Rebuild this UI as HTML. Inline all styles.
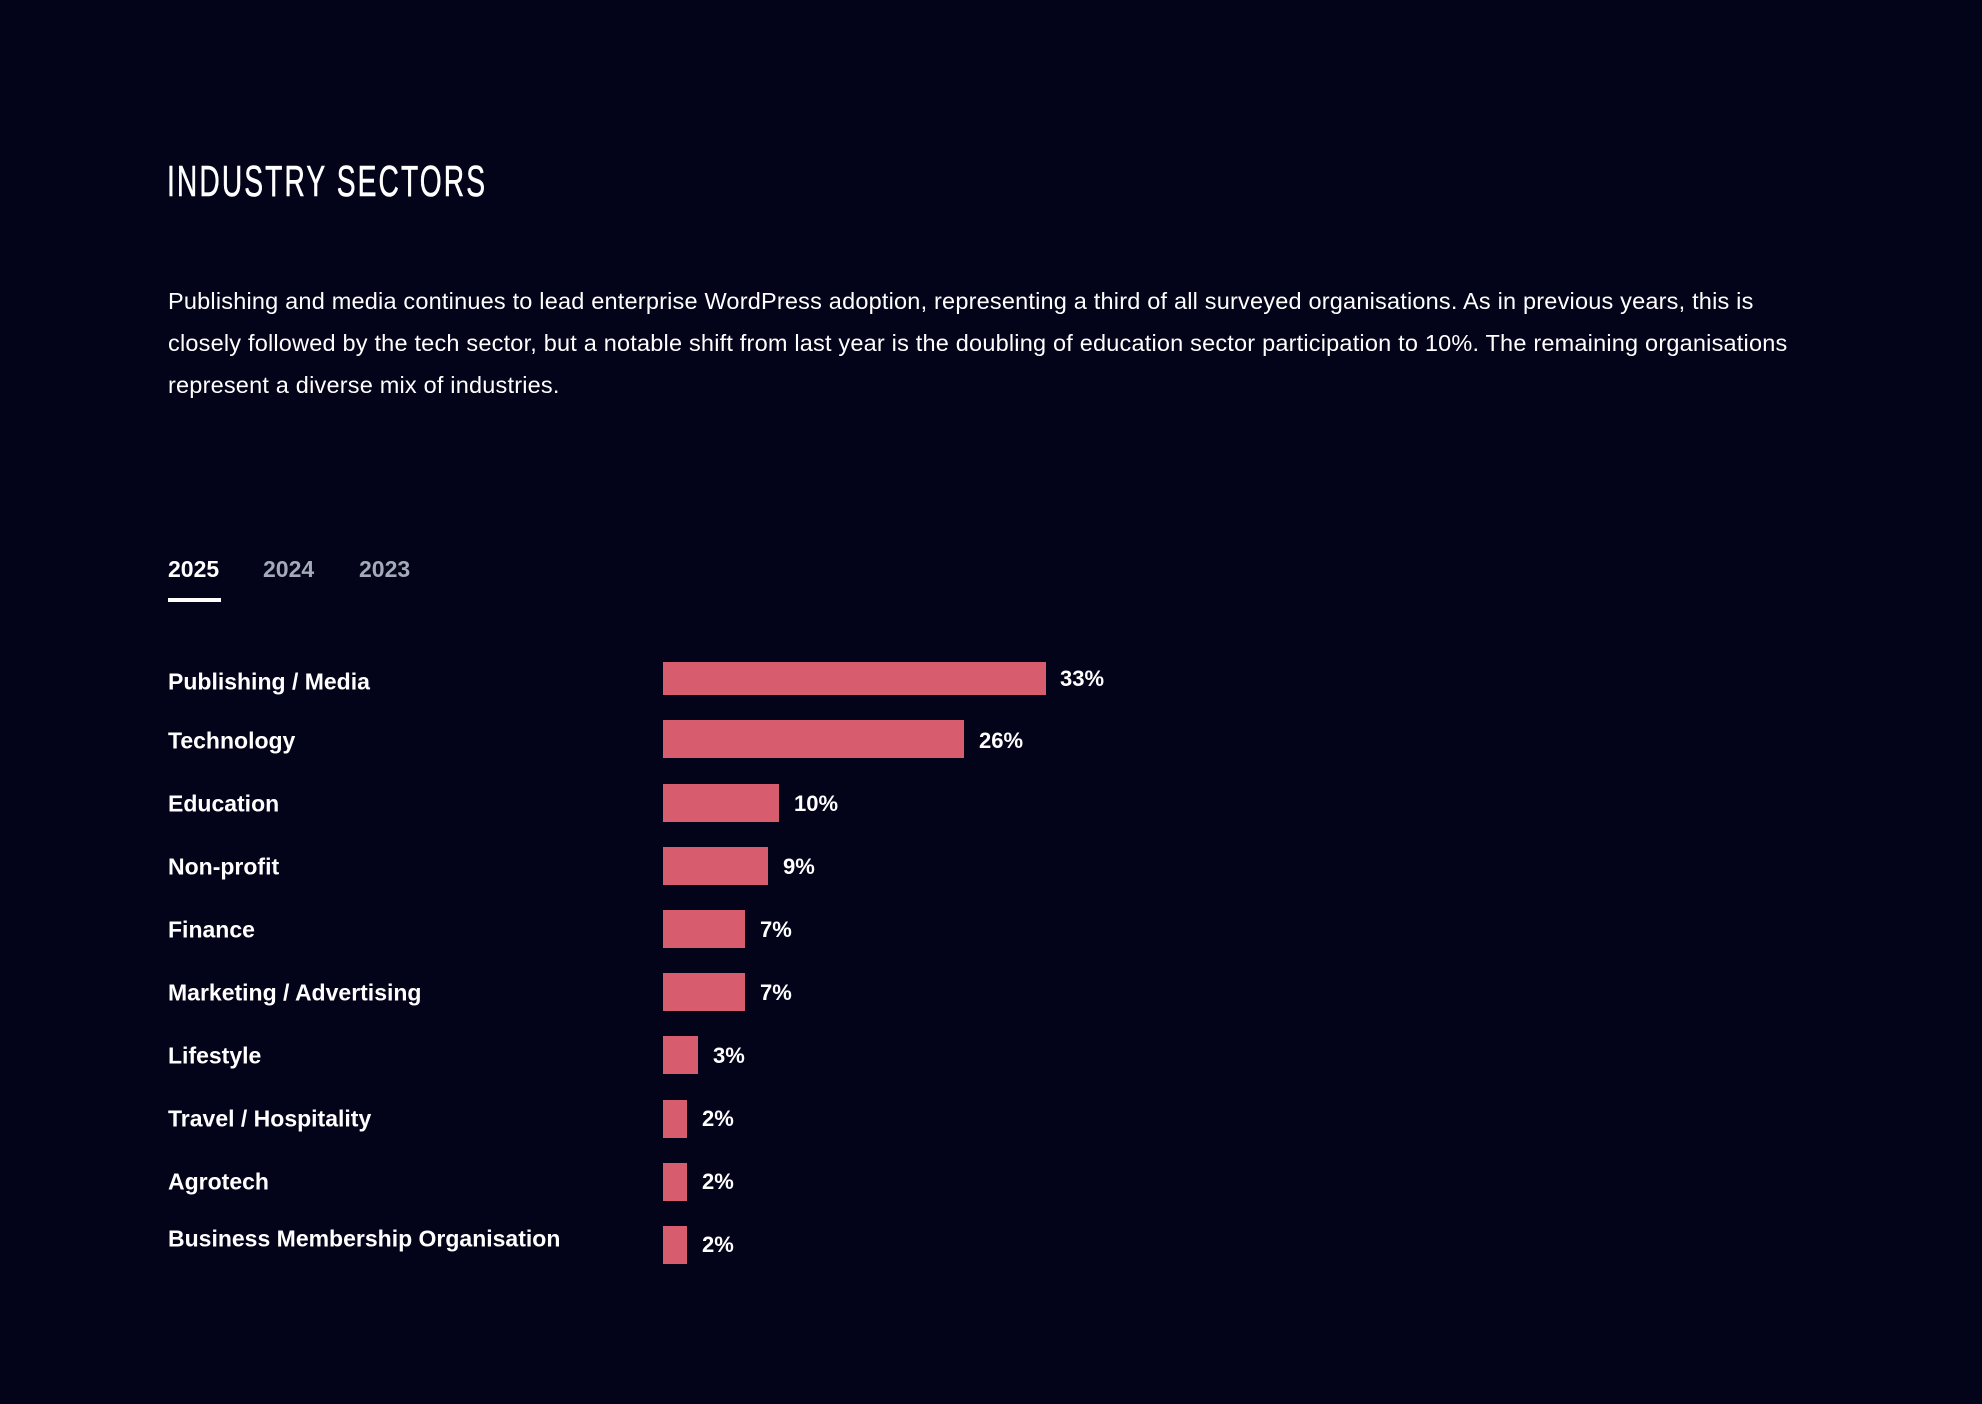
<!DOCTYPE html>
<html><head><meta charset="utf-8"><style>
html,body{margin:0;padding:0;background:#03031a;width:1982px;height:1404px;overflow:hidden;color:#fff;font-family:"Liberation Sans",sans-serif;position:relative}
.t{position:absolute;white-space:nowrap}
h1{position:absolute;left:167px;top:160px;margin:0;font-family:"Liberation Sans",sans-serif;font-weight:400;font-size:44px;letter-spacing:3.3px;line-height:1;transform:scaleX(0.64);transform-origin:0 0;white-space:nowrap;-webkit-text-stroke:0.6px #fff}
.p{left:168px;font-size:23.5px;line-height:42px;letter-spacing:0.2px}
.tab{top:556px;font-size:23px;font-weight:700;color:#a3aab8}
.lab{left:168px;font-size:23px;font-weight:700;transform:translateY(-50%)}
.bar{position:absolute;left:663px;background:#d65c6e;height:38px}
.val{font-size:22px;font-weight:700;transform:translateY(-50%)}
</style></head><body>
<h1>INDUSTRY SECTORS</h1>
<div class="t p" style="top:280px">Publishing and media continues to lead enterprise WordPress adoption, representing a third of all surveyed organisations. As in previous years, this is</div>
<div class="t p" style="top:322px">closely followed by the tech sector, but a notable shift from last year is the doubling of education sector participation to 10%. The remaining organisations</div>
<div class="t p" style="top:364px">represent a diverse mix of industries.</div>
<div class="t tab" style="left:168px;color:#fff">2025</div>
<div class="t tab" style="left:263px">2024</div>
<div class="t tab" style="left:359px">2023</div>
<div style="position:absolute;left:168px;top:598px;width:53px;height:4px;background:#fff"></div>

<div class="t lab" style="top:682px">Publishing / Media</div>
<div class="bar" style="top:662px;height:33px;width:383px"></div>
<div class="t val" style="left:1060px;top:679px">33%</div>

<div class="t lab" style="top:741px">Technology</div>
<div class="bar" style="top:720px;width:301px"></div>
<div class="t val" style="left:979px;top:741px">26%</div>

<div class="t lab" style="top:804px">Education</div>
<div class="bar" style="top:784px;width:116px"></div>
<div class="t val" style="left:794px;top:804px">10%</div>

<div class="t lab" style="top:867px">Non-profit</div>
<div class="bar" style="top:847px;width:105px"></div>
<div class="t val" style="left:783px;top:867px">9%</div>

<div class="t lab" style="top:930px">Finance</div>
<div class="bar" style="top:910px;width:82px"></div>
<div class="t val" style="left:760px;top:930px">7%</div>

<div class="t lab" style="top:993px">Marketing / Advertising</div>
<div class="bar" style="top:973px;width:82px"></div>
<div class="t val" style="left:760px;top:993px">7%</div>

<div class="t lab" style="top:1056px">Lifestyle</div>
<div class="bar" style="top:1036px;width:35px"></div>
<div class="t val" style="left:713px;top:1056px">3%</div>

<div class="t lab" style="top:1119px">Travel / Hospitality</div>
<div class="bar" style="top:1100px;width:24px"></div>
<div class="t val" style="left:702px;top:1119px">2%</div>

<div class="t lab" style="top:1182px">Agrotech</div>
<div class="bar" style="top:1163px;width:24px"></div>
<div class="t val" style="left:702px;top:1182px">2%</div>

<div class="t lab" style="top:1239px">Business Membership Organisation</div>
<div class="bar" style="top:1226px;width:24px"></div>
<div class="t val" style="left:702px;top:1245px">2%</div>
</body></html>
